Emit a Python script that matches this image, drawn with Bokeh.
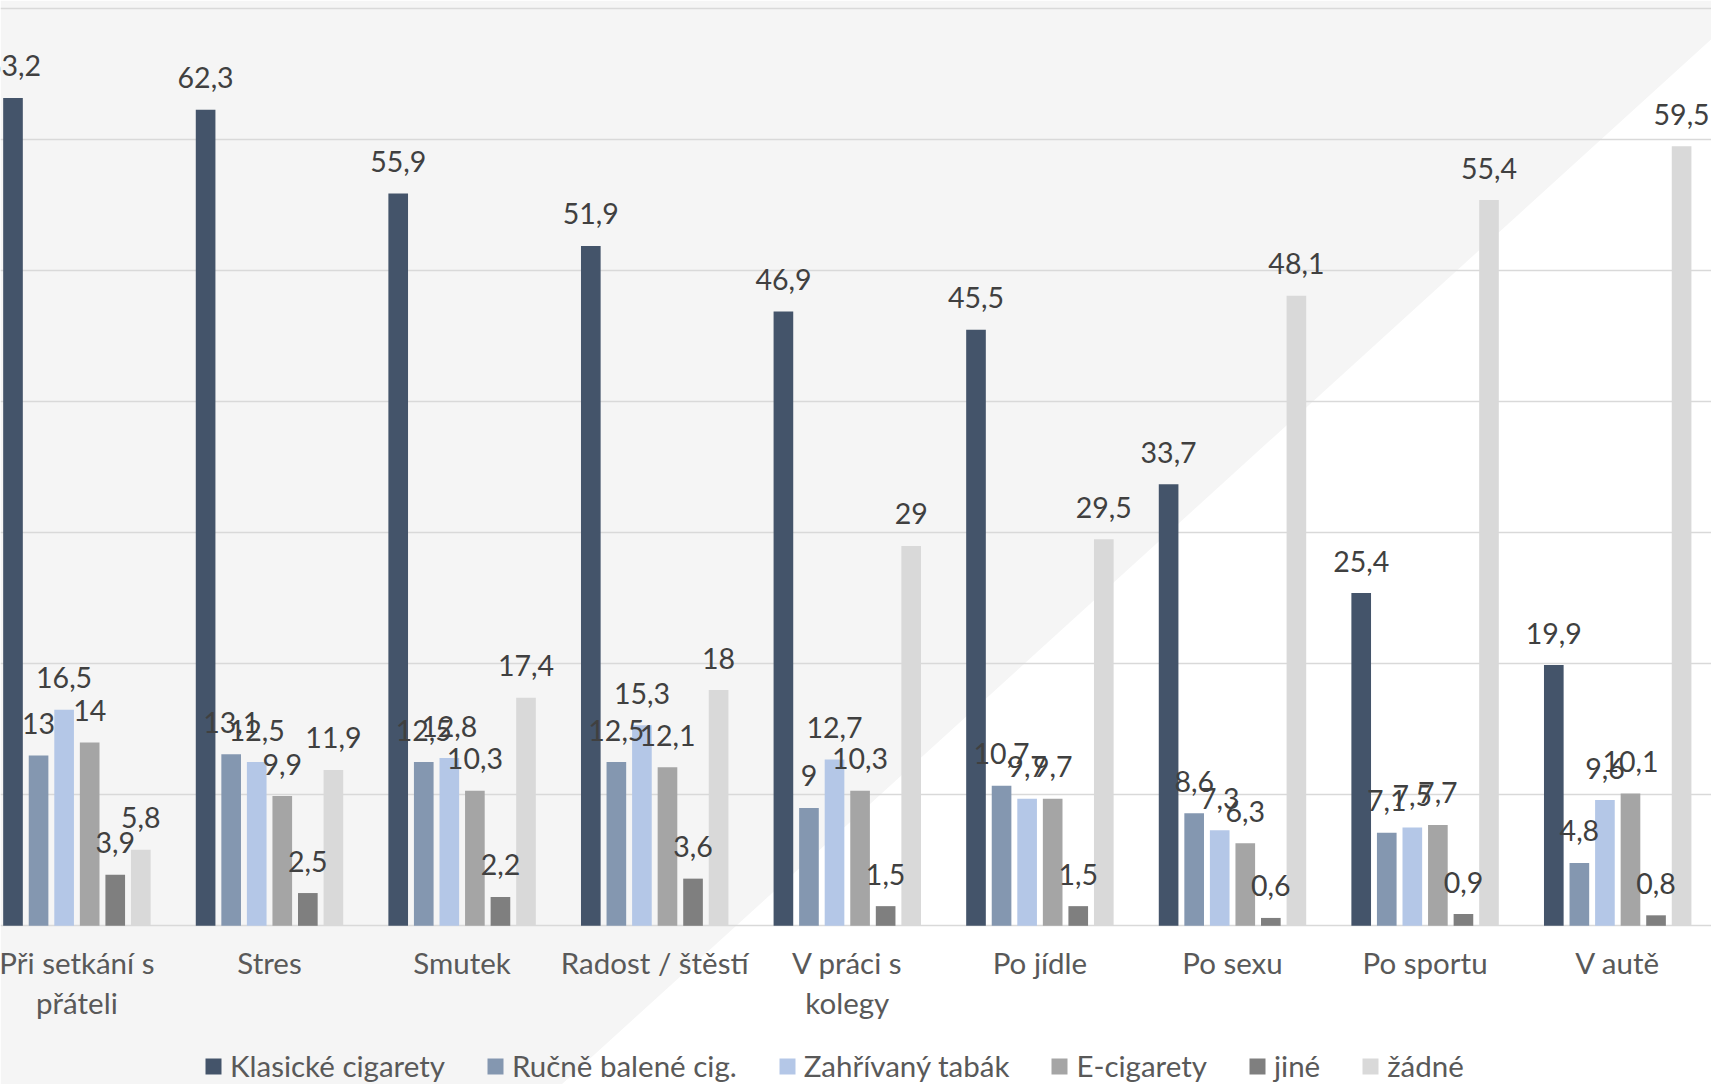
from bokeh.plotting import figure
from bokeh.models import ColumnDataSource, Range1d, Legend, LegendItem, FixedTicker, Grid
from bokeh.transform import dodge
from bokeh.core.properties import value
from bokeh.embed import file_html
from bokeh.resources import INLINE

# --- data -----------------------------------------------------------------
categories = ["Při setkání s\npřáteli", "Stres", "Smutek", "Radost / štěstí",
              "V práci s\nkolegy", "Po jídle", "Po sexu", "Po sportu", "V autě"]
series_names = ["Klasické cigarety", "Ručně balené cig.", "Zahřívaný tabák",
                "E-cigarety", "jiné", "žádné"]
klasicke = [63.2, 62.3, 55.9, 51.9, 46.9, 45.5, 33.7, 25.4, 19.9]
rucne = [13, 13.1, 12.5, 12.5, 9, 10.7, 8.6, 7.1, 4.8]
zahrivany = [16.5, 12.5, 12.8, 15.3, 12.7, 9.7, 7.3, 7.5, 9.6]
ecigarety = [14, 9.9, 10.3, 12.1, 10.3, 9.7, 6.3, 7.7, 10.1]
jine = [3.9, 2.5, 2.2, 3.6, 1.5, 1.5, 0.6, 0.9, 0.8]
zadne = [5.8, 11.9, 17.4, 18, 29, 29.5, 48.1, 55.4, 59.5]
grid_values = [0, 10, 20, 30, 40, 50, 60, 70]

series = [klasicke, rucne, zahrivany, ecigarety, jine, zadne]
colors = ["#44546a", "#8497b0", "#b4c7e7", "#a5a5a5", "#7f7f7f", "#d9d9d9"]

# --- layout ---------------------------------------------------------------
W, H = 1711, 1084
CAT_PX = 192.6        # pixels per category
X0_PX = 76.4          # pixel centre of the first category
BASE_PX = 925.3       # pixel row of the zero line
UNIT_PX = 13.1        # pixels per percentage point
FONT = "Lato"


def to_x(px):
    return (px - X0_PX) / CAT_PX


def to_y(py):
    return (BASE_PX - py) / UNIT_PX


p = figure(width=W, height=H, output_backend="svg", toolbar_location=None,
           x_range=Range1d(to_x(0), to_x(W)), y_range=Range1d(to_y(H), to_y(0)),
           x_axis_location=None, y_axis_location=None, min_border=0)
p.outline_line_color = None
p.background_fill_color = "white"
p.border_fill_color = "white"
p.xgrid.visible = False
p.ygrid.visible = False

# light grey diagonal backdrop
bg_px = [(0, 0), (W, 0), (W, 38.5), (561, H), (0, H)]
bg = p.patch([to_x(a) for a, _ in bg_px], [to_y(b) for _, b in bg_px],
             fill_color="#f5f5f5", line_color=None)
bg.level = "image"

p.add_layout(Grid(dimension=1, ticker=FixedTicker(ticks=grid_values),
                  grid_line_color="#d9d9d9", grid_line_width=1.6))

data = {"idx": list(range(len(categories))), "cat": categories}
for k, s in enumerate(series):
    data[f"s{k}"] = s
    data[f"l{k}"] = [f"{v:g}".replace(".", ",") for v in s]
src = ColumnDataSource(data)

pitch = 0.1327
bar_w = 0.102
items = []
for k, name in enumerate(series_names):
    off = (k - 2.5) * pitch
    r = p.vbar(x=dodge("idx", off), top=f"s{k}", bottom=0, width=bar_w,
               source=src, fill_color=colors[k], line_color=None)
    items.append(LegendItem(label=name, renderers=[r]))

for k in range(len(series)):
    off = (k - 2.5) * pitch
    p.text(x=dodge("idx", off), y=f"s{k}", text=f"l{k}", source=src,
           text_font=value(FONT), text_font_size="28.5px", text_color="#404040",
           text_align="center", text_baseline="alphabetic", y_offset=-32)

# category names under the zero line
p.text(x="idx", y=0, text="cat", source=src, text_font=value(FONT),
       text_font_size="29.5px", text_color="#595959", text_align="center",
       text_baseline="top", y_offset=19, text_line_height=1.15)

legend = Legend(items=items, orientation="horizontal", location=(203, 1),
                label_text_font=FONT, label_text_font_size="29.5px",
                label_text_color="#595959", glyph_width=20, glyph_height=20,
                label_standoff=7, spacing=40, padding=0, margin=0,
                border_line_alpha=0, background_fill_alpha=0)
p.add_layout(legend)

open("out.html", "w").write(file_html(p, INLINE))
